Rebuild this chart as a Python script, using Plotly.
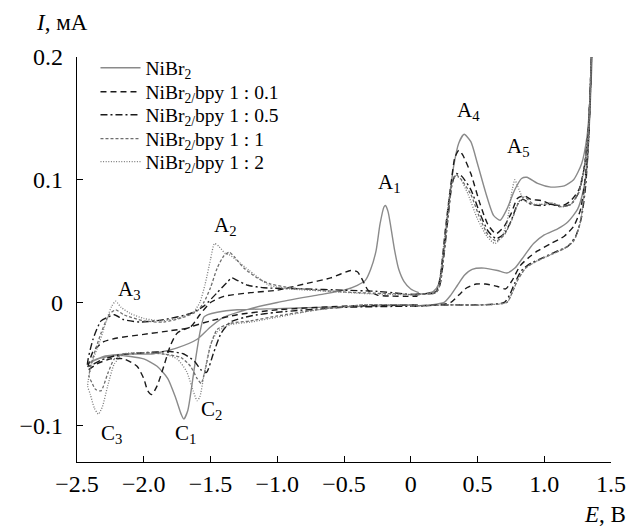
import plotly.graph_objects as go

# ---------------- data ----------------
# Each series: left loop (cathodic region) and right loop (anodic region), separated by None
nibr2_E = [0.05, -0.3, -0.7, -1.0, -1.3, -1.45, -1.52, -1.55, -1.58, -1.61, -1.64, -1.67, -1.70, -1.72, -1.76, -1.82, -1.9, -2.0, -2.2, -2.35, -2.42,
           -2.3, -2.1, -1.94, -1.75, -1.6, -1.5, -1.4, -1.2, -1.0, -0.7, -0.5, -0.4, -0.34, -0.30, -0.26, -0.23, -0.20, -0.19, -0.17, -0.15, -0.12, -0.09, -0.05, 0.0, 0.06,
           None,
           0.0, 0.15, 0.25, 0.3, 0.35, 0.4, 0.46, 0.55, 0.65, 0.72, 0.78, 0.85, 0.92, 1.0, 1.1, 1.18, 1.25, 1.29, 1.32, 1.34, 1.36,
           1.34, 1.32, 1.28, 1.22, 1.15, 1.05, 0.95, 0.87, 0.83, 0.78, 0.72, 0.67, 0.62, 0.56, 0.5, 0.45, 0.40, 0.36, 0.32, 0.28, 0.24, 0.21, 0.17, 0.1, 0.0]
nibr2_I = [-0.002, -0.003, -0.004, -0.005, -0.006, -0.008, -0.010, -0.012, -0.025, -0.045, -0.068, -0.088, -0.095, -0.091, -0.078, -0.062, -0.052, -0.046, -0.043, -0.046, -0.050,
           -0.044, -0.042, -0.042, -0.037, -0.030, -0.020, -0.012, -0.005, 0.000, 0.006, 0.010, 0.014, 0.018, 0.027, 0.042, 0.064, 0.078, 0.079, 0.074, 0.062, 0.042, 0.027, 0.017, 0.011, 0.008,
           None,
           -0.003, -0.002, 0.000, 0.006, 0.014, 0.022, 0.027, 0.028, 0.026, 0.024, 0.028, 0.038, 0.048, 0.055, 0.060, 0.066, 0.076, 0.090, 0.110, 0.150, 0.205,
           0.160, 0.135, 0.113, 0.100, 0.095, 0.094, 0.097, 0.102, 0.101, 0.092, 0.076, 0.067, 0.071, 0.090, 0.113, 0.131, 0.137, 0.130, 0.110, 0.075, 0.035, 0.015, 0.009, 0.007, 0.007]

bpy01_E = [0.05, -0.5, -1.0, -1.3, -1.5, -1.65, -1.75, -1.8, -1.85, -1.9, -1.94, -1.97, -2.0, -2.05, -2.15, -2.25, -2.35, -2.42,
           -2.38, -2.3, -2.2, -2.0, -1.8, -1.65, -1.58, -1.5, -1.4, -1.2, -1.0, -0.8, -0.6, -0.45, -0.4, -0.36, -0.32, -0.25, 0.05,
           None,
           0.0, 0.2, 0.3, 0.36, 0.42, 0.49, 0.56, 0.65, 0.71, 0.76, 0.82, 0.9, 0.95, 1.05, 1.15, 1.22, 1.27, 1.3, 1.33, 1.355,
           1.33, 1.3, 1.26, 1.2, 1.14, 1.05, 0.98, 0.9, 0.85, 0.8, 0.75, 0.7, 0.64, 0.58, 0.52, 0.45, 0.39, 0.36, 0.33, 0.3, 0.26, 0.22, 0.19, 0.1, 0.0]
bpy01_I = [-0.002, -0.003, -0.006, -0.010, -0.015, -0.020, -0.025, -0.035, -0.052, -0.068, -0.075, -0.072, -0.062, -0.052, -0.046, -0.046, -0.050, -0.055,
           -0.040, -0.032, -0.029, -0.026, -0.023, -0.020, -0.010, 0.000, 0.005, 0.008, 0.010, 0.015, 0.020, 0.026, 0.025, 0.018, 0.010, 0.006, 0.005,
           None,
           -0.003, -0.002, 0.000, 0.006, 0.012, 0.015, 0.015, 0.013, 0.011, 0.018, 0.030, 0.038, 0.042, 0.048, 0.054, 0.062, 0.075, 0.095, 0.130, 0.205,
           0.140, 0.110, 0.092, 0.083, 0.079, 0.080, 0.083, 0.084, 0.087, 0.085, 0.072, 0.062, 0.056, 0.063, 0.080, 0.105, 0.120, 0.124, 0.118, 0.095, 0.060, 0.020, 0.009, 0.007, 0.006]

bpy05_E = [0.05, -0.5, -1.0, -1.2, -1.35, -1.42, -1.48, -1.53, -1.57, -1.62, -1.7, -1.8, -2.0, -2.2, -2.32, -2.42,
           -2.38, -2.32, -2.27, -2.22, -2.15, -2.03, -1.85, -1.65, -1.55, -1.45, -1.38, -1.34, -1.3, -1.22, -1.1, -0.8, -0.5, -0.25, 0.05,
           None,
           0.0, 0.3, 0.5, 0.7, 0.74, 0.78, 0.83, 0.9, 1.0, 1.1, 1.18, 1.24, 1.28, 1.31, 1.335, 1.355,
           1.33, 1.3, 1.26, 1.2, 1.12, 1.05, 0.98, 0.9, 0.84, 0.8, 0.75, 0.7, 0.64, 0.58, 0.52, 0.45, 0.38, 0.34, 0.31, 0.28, 0.25, 0.22, 0.19, 0.1, 0.0]
bpy05_I = [-0.003, -0.004, -0.008, -0.011, -0.016, -0.025, -0.042, -0.057, -0.055, -0.048, -0.042, -0.040, -0.041, -0.043, -0.047, -0.052,
           -0.030, -0.015, -0.012, -0.010, -0.014, -0.016, -0.014, -0.009, -0.003, 0.008, 0.016, 0.020, 0.018, 0.014, 0.012, 0.011, 0.010, 0.009, 0.006,
           None,
           -0.003, -0.002, -0.002, 0.000, 0.006, 0.016, 0.026, 0.032, 0.037, 0.042, 0.046, 0.055, 0.070, 0.095, 0.140, 0.205,
           0.140, 0.110, 0.090, 0.080, 0.078, 0.080, 0.079, 0.080, 0.084, 0.080, 0.066, 0.056, 0.052, 0.058, 0.072, 0.092, 0.103, 0.105, 0.097, 0.070, 0.040, 0.015, 0.008, 0.007, 0.006]

bpy1_E = [0.05, -0.35, -0.7, -1.0, -1.2, -1.35, -1.45, -1.5, -1.54, -1.57, -1.6, -1.65, -1.72, -1.85, -2.0, -2.15, -2.22, -2.27, -2.32, -2.36, -2.39, -2.41,
          -2.38, -2.32, -2.26, -2.21, -2.15, -2.0, -1.85, -1.7, -1.6, -1.55, -1.5, -1.45, -1.4, -1.36, -1.32, -1.25, -1.15, -1.05, -0.9, -0.7, -0.4, -0.1, 0.05,
          None,
          0.0, 0.3, 0.55, 0.72, 0.76, 0.8, 0.86, 0.95, 1.05, 1.15, 1.22, 1.27, 1.3, 1.33, 1.355,
          1.33, 1.3, 1.26, 1.2, 1.13, 1.06, 1.0, 0.92, 0.85, 0.81, 0.76, 0.7, 0.64, 0.58, 0.52, 0.45, 0.38, 0.34, 0.31, 0.28, 0.25, 0.22, 0.19, 0.1, 0.0]
bpy1_I = [-0.002, -0.002, -0.006, -0.011, -0.015, -0.017, -0.022, -0.035, -0.055, -0.066, -0.062, -0.052, -0.045, -0.042, -0.041, -0.042, -0.046, -0.058, -0.072, -0.071, -0.065, -0.060,
          -0.045, -0.025, -0.010, -0.006, -0.010, -0.015, -0.016, -0.012, -0.007, 0.000, 0.012, 0.028, 0.038, 0.041, 0.037, 0.028, 0.020, 0.015, 0.012, 0.010, 0.008, 0.007, 0.006,
          None,
          -0.003, -0.002, -0.002, 0.000, 0.008, 0.018, 0.028, 0.034, 0.039, 0.044, 0.050, 0.065, 0.090, 0.130, 0.205,
          0.140, 0.110, 0.090, 0.080, 0.078, 0.081, 0.080, 0.080, 0.086, 0.082, 0.068, 0.055, 0.050, 0.055, 0.068, 0.088, 0.100, 0.104, 0.097, 0.070, 0.040, 0.015, 0.008, 0.007, 0.006]

bpy2_E = [0.05, -0.35, -0.7, -1.0, -1.2, -1.35, -1.45, -1.5, -1.55, -1.58, -1.6, -1.63, -1.68, -1.75, -1.85, -2.0, -2.15, -2.22, -2.27, -2.31, -2.34, -2.37, -2.40, -2.42,
          -2.39, -2.33, -2.28, -2.24, -2.21, -2.17, -2.1, -2.0, -1.87, -1.75, -1.63, -1.58, -1.54, -1.5, -1.47, -1.44, -1.39, -1.36, -1.3, -1.21, -1.06, -0.9, -0.6, -0.3, 0.05,
          None,
          0.0, 0.3, 0.55, 0.72, 0.76, 0.8, 0.86, 0.95, 1.05, 1.15, 1.22, 1.27, 1.3, 1.33, 1.355,
          1.33, 1.3, 1.26, 1.2, 1.13, 1.06, 1.0, 0.92, 0.85, 0.8, 0.78, 0.76, 0.72, 0.68, 0.63, 0.57, 0.5, 0.43, 0.37, 0.33, 0.3, 0.27, 0.24, 0.21, 0.18, 0.1, 0.0]
bpy2_I = [-0.002, -0.002, -0.006, -0.012, -0.016, -0.018, -0.024, -0.035, -0.060, -0.077, -0.080, -0.072, -0.056, -0.046, -0.042, -0.041, -0.042, -0.050, -0.068, -0.085, -0.091, -0.086, -0.075, -0.068,
          -0.050, -0.032, -0.015, -0.003, 0.001, -0.004, -0.009, -0.013, -0.015, -0.013, -0.008, 0.000, 0.015, 0.035, 0.048, 0.046, 0.040, 0.039, 0.034, 0.026, 0.014, 0.011, 0.009, 0.007, 0.006,
          None,
          -0.003, -0.002, -0.002, 0.000, 0.008, 0.018, 0.028, 0.034, 0.039, 0.044, 0.050, 0.065, 0.090, 0.130, 0.205,
          0.140, 0.110, 0.090, 0.080, 0.078, 0.081, 0.080, 0.080, 0.083, 0.095, 0.100, 0.092, 0.065, 0.053, 0.048, 0.054, 0.068, 0.088, 0.101, 0.103, 0.095, 0.070, 0.040, 0.015, 0.008, 0.007, 0.006]

series_names = ["NiBr<sub>2</sub>",
                "NiBr<sub>2/</sub>bpy 1 : 0.1",
                "NiBr<sub>2/</sub>bpy 1 : 0.5",
                "NiBr<sub>2/</sub>bpy 1 : 1",
                "NiBr<sub>2/</sub>bpy 1 : 2"]

x_tick_vals = [-2.5, -2.0, -1.5, -1.0, -0.5, 0, 0.5, 1.0, 1.5]
x_tick_text = ["\u22122.5", "\u22122.0", "\u22121.5", "\u22121.0", "\u22120.5", "0", "0.5", "1.0", "1.5"]
y_tick_vals = [-0.1, 0, 0.1, 0.2]
y_tick_text = ["\u22120.1", "0", "0.1", "0.2"]

peak_labels = ["A<sub>1</sub>", "A<sub>2</sub>", "A<sub>3</sub>", "A<sub>4</sub>", "A<sub>5</sub>",
               "C<sub>1</sub>", "C<sub>2</sub>", "C<sub>3</sub>"]
peak_label_E = [-0.16, -1.39, -2.11, 0.43, 0.81, -1.69, -1.49, -2.24]
peak_label_I = [0.097, 0.062, 0.010, 0.156, 0.127, -0.107, -0.088, -0.107]

# ---------------- figure ----------------
FONT = "Liberation Serif"
styles = [
    dict(color="#8a8a8a", width=1.4, dash="solid"),
    dict(color="#1a1a1a", width=1.4, dash="6px,4px"),
    dict(color="#1a1a1a", width=1.4, dash="7px,3px,2px,3px"),
    dict(color="#6e6e6e", width=1.3, dash="3px,2px"),
    dict(color="#7a7a7a", width=1.3, dash="1px,1.6px"),
]
data_E = [nibr2_E, bpy01_E, bpy05_E, bpy1_E, bpy2_E]
data_I = [nibr2_I, bpy01_I, bpy05_I, bpy1_I, bpy2_I]

# the page body adds an 8px offset; the figure is sized so that it fills the window
OFF = 8
W, H = 638 - OFF, 527 - OFF
ml, mr, mt, mb = 73 - OFF, 16, 57 - OFF, 65
pw, ph = W - ml - mr, H - mt - mb


def px_to_paper(px, py):
    # px, py are window pixel positions
    return (px - OFF - ml) / pw, 1 - (py - OFF - mt) / ph


legend_ids = ["legend", "legend2", "legend3", "legend4", "legend5"]
legend_rows_px = [68, 92, 115, 139, 162]

fig = go.Figure()
for name, ex, iy, st, lg in zip(series_names, data_E, data_I, styles, legend_ids):
    fig.add_trace(go.Scatter(x=ex, y=iy, mode="lines", name=name, legend=lg,
                             line=dict(color=st["color"], width=st["width"], dash=st["dash"],
                                       shape="spline", smoothing=0.6),
                             connectgaps=False))

for txt, ex, iy in zip(peak_labels, peak_label_E, peak_label_I):
    fig.add_annotation(x=ex, y=iy, xref="x", yref="y", text=txt, showarrow=False,
                       xanchor="center", yanchor="middle",
                       font=dict(family=FONT, size=21, color="black"))

xa, ya = px_to_paper(58, 22)
fig.add_annotation(x=xa, y=ya, xref="paper", yref="paper", text="<i>I</i>, мА", showarrow=False,
                   xanchor="center", yanchor="middle",
                   font=dict(family=FONT, size=23, color="black"))
xa, ya = px_to_paper(616, 514)
fig.add_annotation(x=xa, y=ya, xref="paper", yref="paper", text="<i>E</i>, В", showarrow=False,
                   xanchor="center", yanchor="middle",
                   font=dict(family=FONT, size=23, color="black"))

axis_common = dict(showline=True, linecolor="black", linewidth=1.3, ticks="inside", ticklen=6,
                   tickwidth=1.2, tickcolor="black", showgrid=False, zeroline=False,
                   tickfont=dict(family=FONT, size=24, color="black"))
fig.update_xaxes(range=[-2.5, 1.5], tickvals=x_tick_vals, ticktext=x_tick_text, **axis_common)
fig.update_yaxes(range=[-0.13, 0.2], tickvals=y_tick_vals, ticktext=y_tick_text,
                 ticklabelstandoff=8, **axis_common)

legend_layout = {}
for lg, row in zip(legend_ids, legend_rows_px):
    lx, ly = px_to_paper(92, row)
    legend_layout[lg] = dict(x=lx, y=ly, xanchor="left", yanchor="middle", bgcolor="rgba(0,0,0,0)",
                             font=dict(family=FONT, size=19.5, color="black"), itemwidth=40)

fig.update_layout(
    width=W, height=H,
    margin=dict(l=ml, r=mr, t=mt, b=mb),
    plot_bgcolor="white", paper_bgcolor="white",
    font=dict(family=FONT, color="black"),
    showlegend=True,
    **legend_layout,
)
fig.write_html("out.html")
